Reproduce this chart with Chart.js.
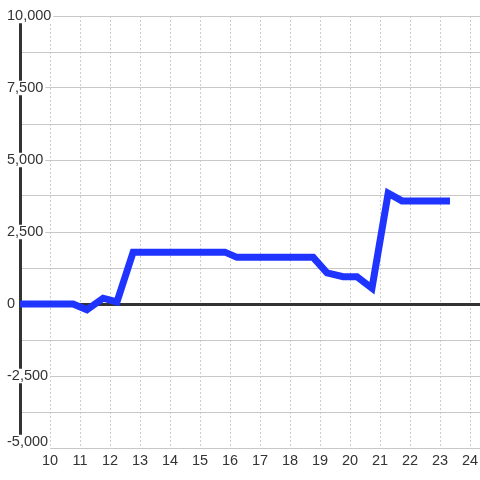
<!DOCTYPE html>
<html lang="en">

<head>
    <meta charset="UTF-8">
    <title>Line chart</title>
    <script src="https://cdn.jsdelivr.net/npm/chart.js"></script>
    <style>
        html, body { margin: 0; padding: 0; background: #fff; }
        .wrap { width: 480px; height: 480px; }
    </style>
</head>

<body>
    <div class="wrap">
        <canvas id="grafico"></canvas>
    </div>

<script>
    // valores
    const xValores = [8.75, 10.77, 11.23, 11.77, 12.23, 12.77, 15.83, 16.23, 18.77, 19.23, 19.77, 20.23, 20.73, 21.27, 21.73, 23.33];
    const yValores = [0, 0, -200, 200, 70, 1800, 1800, 1620, 1620, 1080, 950, 950, 550, 3850, 3580, 3580];

    const xTicks = [10, 11, 12, 13, 14, 15, 16, 17, 18, 19, 20, 21, 22, 23, 24];
    const yTicks = [-5000, -3750, -2500, -1250, 0, 1250, 2500, 3750, 5000, 6250, 7500, 8750, 10000];

    const pontos = xValores.map((x, i) => ({ x: x, y: yValores[i] }));

    // sobe um pouco o ultimo rotulo de baixo para ele caber acima da borda
    const ajusteRotulo = {
        id: 'ajusteRotulo',
        beforeDraw(chart) {
            const itens = chart.scales.y.getLabelItems();
            itens.forEach(item => {
                if (item.label === '-5,000' && !item._movido) {
                    item.options.translation[1] -= 6;
                    item._movido = true;
                }
            });
        }
    };

    const config = {
        type: 'line',
        data: {
            datasets: [{
                data: pontos,
                borderColor: '#1f35ff',
                borderWidth: 7,
                pointRadius: 0,
                tension: 0,
                fill: false
            }]
        },
        options: {
            responsive: false,
            animation: false,
            layout: { padding: { top: 16, left: 7, right: 0, bottom: 0 } },
            plugins: {
                legend: { display: false },
                tooltip: { enabled: false }
            },
            scales: {
                x: {
                    type: 'linear',
                    min: 9,
                    max: 24.33,
                    afterBuildTicks: (scale) => {
                        scale.ticks = xTicks.map(v => ({ value: v }));
                    },
                    afterFit: (scale) => {
                        scale.height = 32;
                        scale.paddingLeft = 0;
                        scale.paddingRight = 0;
                    },
                    grid: {
                        z: -1,
                        color: '#cccccc',
                        lineWidth: 1,
                        drawTicks: false
                    },
                    border: { display: false, dash: [2, 2] },
                    ticks: {
                        padding: 4,
                        color: '#333333',
                        font: { family: 'Liberation Sans', size: 14.5 },
                        maxRotation: 0,
                        autoSkip: false
                    }
                },
                y: {
                    min: -5000,
                    max: 10000,
                    afterBuildTicks: (scale) => {
                        scale.ticks = yTicks.map(v => ({ value: v }));
                    },
                    afterFit: (scale) => {
                        scale.width = 13;
                        scale.paddingTop = 0;
                        scale.paddingBottom = 0;
                    },
                    border: { display: true, color: '#333333', width: 3 },
                    grid: {
                        drawTicks: false,
                        color: (ctx) => (ctx.tick && ctx.tick.value === 0 ? '#333333' : '#c8c8c8'),
                        lineWidth: (ctx) => (ctx.tick && ctx.tick.value === 0 ? 3 : 1)
                    },
                    ticks: {
                        mirror: true,
                        padding: -13,
                        color: '#333333',
                        font: { family: 'Liberation Sans', size: 14.5, lineHeight: 1 },
                        showLabelBackdrop: true,
                        backdropColor: '#ffffff',
                        backdropPadding: { top: 0, bottom: 0, left: 1, right: 2 },
                        callback: (v) => (v % 2500 === 0 ? v.toLocaleString('en-US') : ''),
                        autoSkip: false
                    }
                }
            }
        },
        plugins: [ajusteRotulo]
    };

    const cv = document.getElementById('grafico');
    cv.width = 480;
    cv.height = 480;
    const grafico = new Chart(cv.getContext('2d'), config);
</script>
</body>

</html>
